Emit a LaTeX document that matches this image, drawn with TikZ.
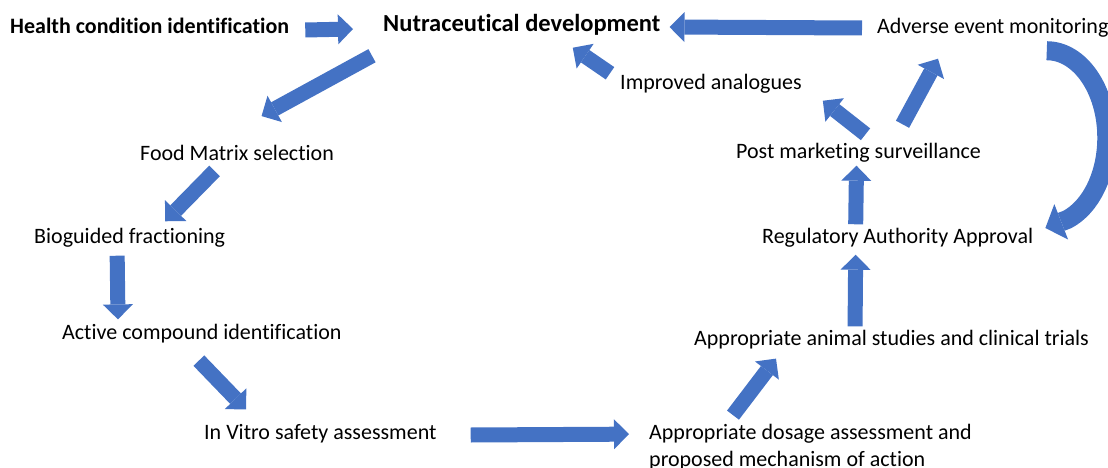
\documentclass[tikz,border=0pt]{standalone}
\usepackage{fontspec}
\setmainfont{Carlito}[Ligatures=NoCommon]
\usetikzlibrary{arrows.meta,calc}
\definecolor{blockblue}{HTML}{4472C4}

\begin{document}
\begin{tikzpicture}[x=1pt, y=-1pt,
  lbl/.style={anchor=west, inner sep=0pt, font=\fontsize{22}{26.5}\selectfont},
  blk/.style={draw=blockblue, line width=15pt, -{Triangle[width=30pt,length=15pt,line width=0pt]}}]

  \useasboundingbox (0,0) rectangle (1108,468);
  \clip (0,0) rectangle (1108,468);

  % Nodes
  \draw (10,26)   node(health)   [lbl] {\textbf{Health condition identification}};
  \draw (383,25)  node(nutra)    [lbl, font=\fontsize{24.5}{29}\selectfont\bfseries] {Nutraceutical development};
  \draw (877,28)  node(adverse)  [lbl] {Adverse event monitoring};
  \draw (620,84)  node(improved) [lbl] {Improved analogues};
  \draw (140,153) node(food)     [lbl] {Food Matrix selection};
  \draw (736,153) node(post)     [lbl] {Post marketing surveillance};
  \draw (34,238)  node(bio)      [lbl] {Bioguided fractioning};
  \draw (762,238) node(reg)      [lbl] {Regulatory Authority Approval};
  \draw (62,334)  node(active)   [lbl] {Active compound identification};
  \draw (694,340) node(animal)   [lbl] {Appropriate animal studies and clinical trials};
  \draw (204,434) node(invitro)  [lbl] {In Vitro safety assessment};
  \draw (649,447) node(dosage)   [lbl, align=left] {Appropriate dosage assessment and\\proposed mechanism of action};

  % Block arrows
  \draw[blk] ($(health.east)+(16,4)$)        -- ($(nutra.west)+(-30,4)$);
  \draw[blk] ($(adverse.west)+(-15,0)$)      -- ($(nutra.east)+(9,2)$);
  \draw[blk] ($(nutra.south west)+(-11,20)$) -- ($(food.north)+(24.5,-29)$);
  \draw[blk] ($(improved.north west)+(-10,-1)$) -- ($(nutra.south)+(51,12)$);
  \draw[blk] ($(food.south)+(-22.5,10)$)     -- ($(bio.north)+(35.5,-7)$);
  \draw[blk] ($(bio.south)+(-12.5,8)$)       -- ($(active.north west)+(56,-5)$);
  \draw[blk] ($(active.south)+(-3,17)$)      -- ($(invitro.north west)+(42,-15)$);
  \draw[blk] ($(invitro.east)+(34,1)$)       -- ($(dosage.north west)+(-20,10)$);
  \draw[blk] ($(dosage.north west)+(84,-9)$) -- ($(animal.south west)+(82,9)$);
  \draw[blk] ($(animal.north)+(-36.5,-4)$)   -- ($(reg.south)+(-42,7)$);
  \draw[blk] ($(reg.north)+(-42,-4)$)        -- ($(post.south)+(-2,3)$);
  \draw[blk] ($(post.north)+(7,-9)$)         -- ($(improved.south east)+(21,7)$);
  \draw[blk] ($(post.north)+(44,-19)$)       -- ($(adverse.south west)+(61,21)$);

  % Curved return arrow
  \draw[blk, line width=19pt, -{Triangle[width=38pt,length=17pt,line width=0pt]}]
    ($(adverse.south)+(54,13)$) arc[start angle=270, end angle=430, x radius=60, y radius=87]
    -- ($(reg.east)+(12,-10)$);
\end{tikzpicture}
\end{document}
